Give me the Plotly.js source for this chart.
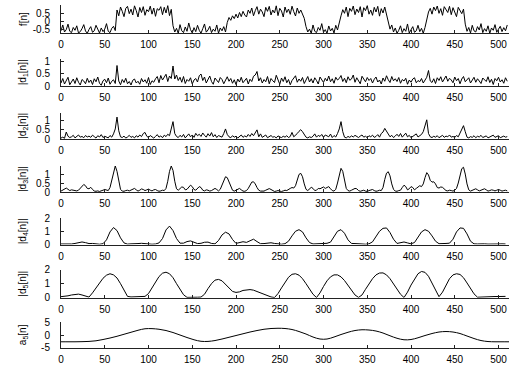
<!DOCTYPE html>
<html><head><meta charset="utf-8">
<script src="https://cdn.plot.ly/plotly-3.0.1.min.js"></script>
<style>html,body{margin:0;padding:0;background:#fff}#chart{width:512px;height:365px}</style>
</head><body><div id="chart"></div>
<script>
// f[n], every 2 samples
const fVals = [
-0.55,-0.20,-0.62,-0.48,-0.15,-0.58,-0.66,-0.35,-0.52,-0.25,-0.68,-0.60,-0.42,-0.18,-0.56,-0.70,-0.47,-0.30,-0.64,-0.55,-0.22,-0.50,-0.68,-0.38,-0.60,-0.45,-0.12,-0.58,-0.66,-0.40,-0.28,-0.54,
0.70,0.35,0.88,0.62,0.30,0.80,0.92,0.48,0.75,0.40,0.95,0.66,0.28,0.85,0.55,0.90,0.38,0.72,0.60,0.93,0.45,0.82,0.32,0.78,0.68,0.90,0.42,0.86,0.52,0.96,0.36,0.74,
-0.25,-0.62,-0.40,-0.70,-0.18,-0.55,-0.66,-0.32,-0.58,-0.08,-0.48,-0.68,-0.36,-0.60,-0.22,-0.52,-0.70,-0.42,-0.14,-0.63,-0.50,-0.28,-0.66,-0.45,-0.58,-0.20,-0.69,-0.38,-0.55,-0.30,-0.62,
-0.05,0.25,0.08,0.35,0.18,0.45,0.22,0.55,0.30,0.62,0.40,0.28,0.70,0.50,0.82,0.35,0.66,0.90,0.45,0.75,0.58,0.30,0.86,0.62,0.92,0.40,0.70,0.52,0.95,0.36,0.80,0.64,0.28,0.88,0.55,0.76,0.44,0.93,0.60,0.34,0.82,0.50,0.70,0.38,0.20,
-0.30,-0.62,-0.45,-0.70,-0.20,-0.58,-0.66,-0.35,-0.52,-0.12,-0.64,-0.48,-0.70,-0.26,-0.56,-0.40,-0.68,-0.22,-0.50,-0.15,
0.35,0.72,0.50,0.88,0.30,0.80,0.62,0.94,0.42,0.76,0.55,0.90,0.28,0.84,0.66,0.96,0.45,0.70,0.38,0.86,0.58,0.92,0.33,0.78,0.52,0.88,0.40,
-0.05,-0.45,-0.20,-0.62,-0.38,-0.70,-0.52,-0.25,-0.66,-0.42,-0.58,-0.14,-0.68,-0.48,-0.30,-0.64,-0.55,-0.22,-0.60,-0.40,-0.70,-0.35,
0.20,0.58,0.80,0.45,0.88,0.66,0.94,0.50,0.78,0.38,0.90,0.70,0.55,0.92,0.42,0.84,0.62,0.30,0.86,0.68,0.48,0.75,
-0.15,-0.58,-0.35,-0.68,-0.22,-0.55,-0.62,-0.30,-0.50,-0.12,-0.66,-0.42,-0.58,-0.25,-0.70,-0.38,-0.52,-0.18,-0.64,-0.45,-0.28,-0.60,-0.36,-0.55,-0.20
];
// |d1[n]|, every 2 samples
const d1Vals = [
0.12,0.30,0.08,0.22,0.35,0.05,0.18,0.28,0.10,0.33,0.15,0.04,0.26,0.20,0.09,0.31,
0.14,0.24,0.06,0.29,0.17,0.36,0.11,0.03,0.21,0.27,0.13,0.32,0.07,0.19,0.25,0.10,
0.82,0.20,0.05,0.26,0.14,0.31,0.09,0.18,0.04,0.23,0.28,0.12,0.19,0.07,0.30,0.16,
0.25,0.11,0.34,0.06,0.21,0.15,0.29,0.38,0.13,0.42,0.24,0.36,0.47,0.18,0.40,0.30,
0.80,0.28,0.44,0.22,0.35,0.15,0.38,0.10,0.26,0.19,0.33,0.08,0.24,0.30,0.16,0.41,
0.48,0.22,0.36,0.12,0.29,0.40,0.18,0.07,0.32,0.21,0.14,0.34,0.26,0.09,0.23,0.37,
0.19,0.30,0.11,0.25,0.06,0.28,0.16,0.35,0.13,0.22,0.31,0.08,0.27,0.18,0.39,0.44,
0.58,0.20,0.33,0.12,0.26,0.17,0.38,0.09,0.30,0.21,0.14,0.43,0.24,0.07,0.32,0.18,
0.37,0.13,0.26,0.05,0.22,0.30,0.41,0.15,0.28,0.19,0.34,0.10,0.25,0.38,0.16,0.29,
0.12,0.33,0.22,0.08,0.36,0.27,0.14,0.31,0.20,0.40,0.17,0.29,0.11,0.35,0.24,0.30,
0.42,0.18,0.31,0.13,0.37,0.23,0.28,0.44,0.15,0.33,0.21,0.09,0.39,0.26,0.17,0.34,
0.22,0.30,0.12,0.27,0.36,0.16,0.24,0.08,0.32,0.19,0.41,0.25,0.14,0.38,0.21,0.29,
0.18,0.34,0.11,0.26,0.20,0.31,0.07,0.24,0.15,0.28,0.33,0.13,0.22,0.17,0.30,0.12,
0.25,0.35,0.62,0.20,0.14,0.29,0.10,0.33,0.22,0.37,0.16,0.27,0.40,0.19,0.31,0.24,
0.13,0.36,0.21,0.30,0.09,0.28,0.38,0.17,0.25,0.33,0.12,0.22,0.35,0.15,0.29,0.20,
0.10,0.32,0.24,0.18,0.37,0.14,0.27,0.06,0.30,0.21,0.35,0.16,0.25,0.11,0.33,0.19
];
// |d2[n]|, every 2 samples
const d2Vals = [
0.05,0.10,0.04,0.38,0.15,0.08,0.12,0.20,0.06,0.17,0.22,0.10,0.14,0.07,0.19,0.11,
0.16,0.09,0.21,0.13,0.05,0.18,0.11,0.24,0.08,0.15,0.12,0.06,0.19,0.10,0.28,0.55,
1.20,0.45,0.12,0.08,0.16,0.05,0.11,0.20,0.09,0.14,0.06,0.18,0.10,0.22,0.13,0.30,
0.36,0.15,0.08,0.19,0.12,0.05,0.14,0.24,0.10,0.17,0.07,0.21,0.13,0.26,0.18,0.50,
0.95,0.30,0.14,0.08,0.20,0.11,0.25,0.06,0.17,0.28,0.12,0.22,0.09,0.31,0.18,0.26,
0.14,0.33,0.20,0.10,0.29,0.16,0.35,0.12,0.24,0.08,0.19,0.13,0.10,0.30,0.55,0.25,
0.12,0.07,0.18,0.10,0.15,0.05,0.13,0.22,0.09,0.17,0.11,0.25,0.14,0.30,0.18,0.35,
0.50,0.12,0.28,0.09,0.16,0.22,0.07,0.14,0.19,0.10,0.13,0.06,0.17,0.11,0.08,0.15,
0.10,0.18,0.08,0.14,0.36,0.12,0.20,0.30,0.42,0.51,0.40,0.25,0.10,0.06,0.12,0.08,
0.15,0.28,0.10,0.20,0.14,0.25,0.09,0.22,0.18,0.12,0.27,0.08,0.19,0.11,0.30,0.55,
0.95,0.40,0.10,0.06,0.14,0.09,0.17,0.11,0.20,0.13,0.08,0.16,0.22,0.10,0.15,0.07,
0.18,0.12,0.21,0.09,0.14,0.24,0.10,0.30,0.38,0.58,0.42,0.22,0.12,0.20,0.08,0.16,
0.26,0.14,0.30,0.10,0.24,0.32,0.12,0.20,0.07,0.15,0.22,0.28,0.11,0.18,0.25,0.40,
0.70,1.05,0.30,0.12,0.08,0.15,0.10,0.18,0.07,0.13,0.20,0.09,0.16,0.12,0.22,0.10,
0.14,0.08,0.19,0.12,0.30,0.52,0.73,0.40,0.10,0.06,0.13,0.09,0.18,0.07,0.15,0.11,
0.20,0.08,0.13,0.17,0.06,0.11,0.15,0.21,0.09,0.14,0.18,0.07,0.12,0.16,0.10,0.13
];
// |d3[n]|, every 2 samples
const d3Vals = [
0.05,0.10,0.18,0.22,0.15,0.08,0.12,0.10,0.04,0.06,0.10,0.22,0.35,0.42,0.35,0.20,
0.18,0.26,0.15,0.05,0.04,0.06,0.03,0.05,0.10,0.14,0.10,0.08,0.25,0.65,1.20,1.45,
1.15,0.55,0.15,0.05,0.04,0.08,0.10,0.06,0.10,0.18,0.20,0.12,0.05,0.10,0.17,0.14,
0.08,0.12,0.16,0.10,0.06,0.12,0.14,0.08,0.04,0.06,0.10,0.08,0.20,0.60,1.15,1.45,
1.20,0.60,0.18,0.10,0.20,0.28,0.26,0.12,0.15,0.30,0.38,0.30,0.14,0.10,0.22,0.30,
0.25,0.10,0.06,0.12,0.10,0.05,0.08,0.15,0.20,0.14,0.06,0.15,0.40,0.68,0.85,0.80,
0.55,0.25,0.10,0.05,0.10,0.18,0.20,0.12,0.05,0.04,0.08,0.20,0.40,0.55,0.57,0.45,
0.25,0.10,0.05,0.03,0.05,0.10,0.16,0.19,0.14,0.06,0.03,0.05,0.08,0.05,0.03,0.06,
0.10,0.08,0.12,0.20,0.25,0.22,0.35,0.70,0.98,1.04,0.85,0.45,0.15,0.08,0.18,0.26,
0.20,0.08,0.10,0.20,0.18,0.22,0.28,0.20,0.24,0.30,0.18,0.08,0.05,0.15,0.50,1.00,
1.32,1.15,0.60,0.20,0.08,0.05,0.10,0.15,0.20,0.18,0.08,0.04,0.06,0.10,0.05,0.03,
0.08,0.12,0.14,0.08,0.04,0.06,0.10,0.08,0.25,0.70,1.05,1.13,0.90,0.45,0.15,0.05,
0.04,0.08,0.10,0.25,0.38,0.30,0.12,0.18,0.30,0.25,0.12,0.20,0.30,0.35,0.30,0.45,
0.80,1.08,0.95,0.65,0.55,0.57,0.45,0.25,0.22,0.28,0.26,0.15,0.08,0.06,0.10,0.08,
0.05,0.10,0.20,0.50,0.95,1.30,1.38,1.00,0.45,0.12,0.05,0.08,0.15,0.18,0.12,0.06,
0.10,0.16,0.18,0.12,0.05,0.08,0.12,0.10,0.06,0.10,0.14,0.10,0.05,0.08,0.10,0.06
];
// |d4[n]|, every 4 samples
const d4Vals = [
0.04,0.03,0.02,0.04,0.08,0.15,0.19,0.14,0.07,0.08,0.04,0.02,0.06,0.35,0.95,1.28,
1.05,0.50,0.12,0.03,0.05,0.04,0.07,0.09,0.06,0.03,0.02,0.04,0.12,0.45,1.10,1.39,
1.05,0.45,0.10,0.10,0.22,0.27,0.16,0.07,0.09,0.17,0.18,0.08,0.05,0.30,0.72,0.93,
0.80,0.38,0.08,0.12,0.21,0.16,0.30,0.40,0.22,0.06,0.07,0.12,0.13,0.08,0.03,0.02,
0.06,0.25,0.65,1.00,1.12,0.95,0.50,0.15,0.04,0.05,0.08,0.10,0.09,0.18,0.55,1.00,
1.12,0.85,0.35,0.08,0.07,0.08,0.04,0.02,0.05,0.20,0.60,1.00,1.22,1.25,0.90,0.40,
0.08,0.15,0.19,0.12,0.05,0.15,0.55,0.95,1.12,1.00,0.65,0.25,0.06,0.05,0.08,0.10,
0.40,0.95,1.25,1.22,0.80,0.25,0.05,0.04,0.06,0.05,0.03,0.05,0.06,0.04,0.05,0.04
];
// |d5[n]|, every 4 samples
const d5Vals = [
0.08,0.10,0.14,0.20,0.25,0.26,0.20,0.10,0.05,0.35,0.70,1.05,1.38,1.60,1.70,1.62,
1.40,1.00,0.55,0.10,0.06,0.08,0.08,0.07,0.10,0.30,0.70,1.15,1.50,1.74,1.81,1.70,
1.42,1.00,0.58,0.22,0.03,0.05,0.06,0.04,0.05,0.25,0.65,1.00,1.25,1.30,1.20,0.95,
0.65,0.45,0.38,0.42,0.52,0.57,0.58,0.54,0.45,0.35,0.24,0.14,0.06,0.02,0.30,0.70,
1.10,1.45,1.66,1.70,1.60,1.35,1.00,0.62,0.25,0.02,0.35,0.80,1.20,1.48,1.62,1.62,
1.48,1.22,0.88,0.52,0.20,0.03,0.20,0.60,1.00,1.35,1.62,1.75,1.76,1.62,1.35,1.00,
0.62,0.25,0.02,0.40,0.90,1.35,1.70,1.86,1.80,1.52,1.05,0.55,0.08,0.40,0.90,1.35,
1.62,1.70,1.65,1.42,1.05,0.65,0.28,0.04,0.06,0.07,0.08,0.08,0.09,0.09,0.10,0.10
];
// a5[n], every 8 samples
const a5Vals = [
-2.7,-2.7,-2.7,-2.65,-2.55,-2.3,-1.8,-1.2,-0.5,0.3,1.1,1.9,2.5,2.55,2.3,1.8,
1.0,0.0,-1.0,-1.9,-2.5,-2.55,-2.2,-1.6,-0.9,-0.2,0.5,1.2,1.8,2.3,2.6,2.7,
2.6,2.2,1.4,0.4,-0.8,-1.6,-1.6,-0.8,0.2,1.1,1.8,2.1,2.0,1.6,0.8,-0.3,
-1.3,-1.9,-1.8,-1.1,-0.2,0.6,1.2,1.4,1.2,0.6,-0.4,-1.4,-2.2,-2.6,-2.7,-2.7,-2.7
];
const xTicks = [0,50,100,150,200,250,300,350,400,450,500];
const labels = ['f[n]','|d<sub>1</sub>[n]|','|d<sub>2</sub>[n]|','|d<sub>3</sub>[n]|','|d<sub>4</sub>[n]|','|d<sub>5</sub>[n]|','a<sub>5</sub>[n]'];
const series = [fVals,d1Vals,d2Vals,d3Vals,d4Vals,d5Vals,a5Vals];
const steps = [2,2,2,2,4,4,8];
const yTickVals = [[-0.5,0,0.5],[0,0.5,1],[0,0.5,1],[0,0.5,1],[0,1,2],[0,1,2],[-5,0,5]];
const yTickText = [['-0.5','0','0.5'],['0','0.5','1'],['0','0.5','1'],['0','0.5','1'],['0','1','2'],['0','1','2'],['-5','0','5']];
const yRanges = [[-0.7,1.0],[0,1.1],[0,1.45],[0,1.45],[0,2],[0,2],[-5.3,5.2]];
const panels = [[5,33.3],[58.5,86],[112.5,139],[166,192],[218,244.5],[269.5,297.8],[322,348.3]];

const W=512,H=365;
const font = {family:'"Liberation Sans", Arial, Helvetica, sans-serif', size:10, color:'#000'};
const traces = [];
const layout = {width:W,height:H,margin:{l:0,r:0,t:0,b:0},showlegend:false,
  paper_bgcolor:'#fff',plot_bgcolor:'#fff',font:font,annotations:[]};
series.forEach((vals,k)=>{
  const xs = vals.map((v,i)=>i*steps[k]);
  const sfx = k===0 ? '' : String(k+1);
  traces.push({x:xs,y:vals,type:'scatter',mode:'lines',
    line:{color:'#000',width:1,shape:k===6?'spline':'linear'},
    xaxis:'x'+sfx,yaxis:'y'+sfx,hoverinfo:'skip'});
  const [top,bot] = panels[k];
  layout['xaxis'+sfx] = {domain:[61/W,509/W],range:[0,512],anchor:'y'+sfx,
    tickmode:'array',tickvals:xTicks,ticktext:xTicks.map(String),ticks:'inside',ticklen:3,
    tickcolor:'#222',showline:true,linecolor:'#222',linewidth:1,showgrid:false,zeroline:false,
    tickfont:font,ticklabelstandoff:2,automargin:false};
  layout['yaxis'+sfx] = {domain:[1-bot/H,1-top/H],range:yRanges[k],anchor:'x'+sfx,
    tickmode:'array',tickvals:yTickVals[k],ticktext:yTickText[k],ticks:'inside',ticklen:3,
    tickcolor:'#222',showline:true,linecolor:'#222',linewidth:1,showgrid:false,zeroline:false,
    tickfont:font,ticklabelstandoff:8,automargin:false};
  layout.annotations.push({text:labels[k],xref:'paper',yref:'paper',x:23/W,y:1-(top+bot)/2/H,
    xanchor:'center',yanchor:'middle',textangle:-90,showarrow:false,font:font});
});
Plotly.newPlot('chart',traces,layout,{staticPlot:true,displayModeBar:false});
</script></body></html>
